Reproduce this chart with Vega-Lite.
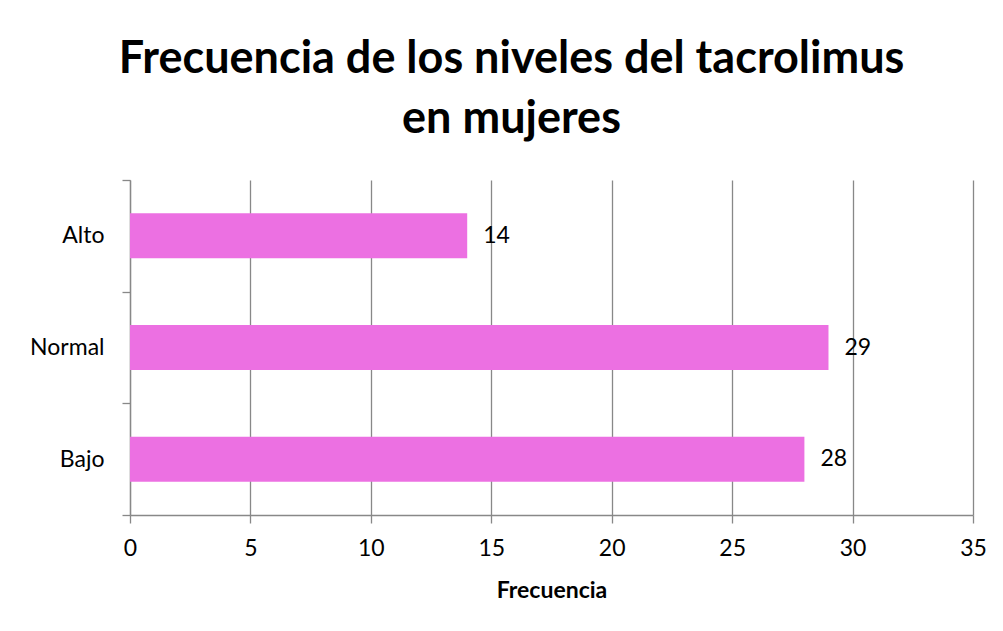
{
  "$schema": "https://vega.github.io/schema/vega-lite/v6.json",
  "width": 843,
  "height": 335,
  "autosize": "none",
  "padding": {"left": 130, "top": 180, "right": 30, "bottom": 116},
  "background": "white",
  "title": {
    "text": ["Frecuencia de los niveles del tacrolimus", "en mujeres"],
    "font": "Lato",
    "fontSize": 45,
    "fontWeight": "bold",
    "color": "black",
    "anchor": "middle",
    "dx": -40,
    "lineHeight": 60,
    "offset": 27
  },
  "config": {
    "view": {"stroke": null},
    "font": "Lato"
  },
  "data": {
    "values": [
      {"nivel": "Alto", "frecuencia": 14},
      {"nivel": "Normal", "frecuencia": 29},
      {"nivel": "Bajo", "frecuencia": 28}
    ]
  },
  "encoding": {
    "y": {
      "field": "nivel",
      "type": "nominal",
      "sort": null,
      "scale": {"paddingInner": 0, "paddingOuter": 0},
      "axis": {
        "title": null,
        "tickBand": "extent",
        "domainColor": "#888888",
        "domainWidth": 1.3,
        "tickColor": "#888888",
        "tickWidth": 1.3,
        "tickSize": 8,
        "labelPadding": 18,
        "labelFont": "Lato",
        "labelFontSize": 23,
        "labelColor": "black",
        "grid": false
      }
    },
    "x": {
      "field": "frecuencia",
      "type": "quantitative",
      "scale": {"domain": [0, 35], "nice": false},
      "axis": {
        "title": "Frecuencia",
        "titleFont": "Lato",
        "titleFontSize": 23,
        "titleFontWeight": "bold",
        "titleColor": "black",
        "titlePadding": 19,
        "values": [0, 5, 10, 15, 20, 25, 30, 35],
        "grid": true,
        "gridColor": "#888888",
        "gridWidth": 1.3,
        "domainColor": "#888888",
        "domainWidth": 1.3,
        "tickColor": "#888888",
        "tickWidth": 1.3,
        "tickSize": 8,
        "labelPadding": 14,
        "labelFont": "Lato",
        "labelFontSize": 23,
        "labelColor": "black",
        "labelFlush": false
      }
    }
  },
  "layer": [
    {"mark": {"type": "bar", "color": "#EC70E2", "height": {"band": 0.403}}},
    {
      "mark": {"type": "text", "align": "left", "baseline": "middle", "dx": 16, "fontSize": 23, "font": "Lato", "color": "black"},
      "encoding": {"text": {"field": "frecuencia", "type": "quantitative"}}
    }
  ]
}
